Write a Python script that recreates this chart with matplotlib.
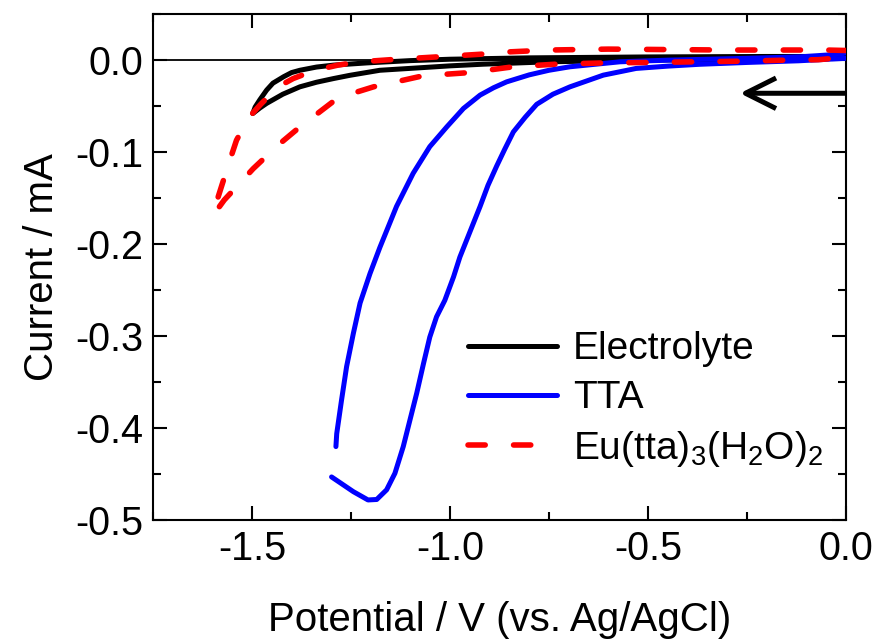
import matplotlib
matplotlib.use('Agg')
import matplotlib.pyplot as plt
from matplotlib.patches import FancyArrowPatch
from matplotlib.ticker import MultipleLocator

plt.rcParams['font.family'] = ['Liberation Sans', 'DejaVu Sans']
plt.rcParams['mathtext.default'] = 'regular'
plt.rcParams['axes.unicode_minus'] = False

# Electrolyte: scan to -1.5 V and back
elec_fwd_v = [0.0, -0.2, -0.5, -0.8, -1.0, -1.1, -1.21, -1.294, -1.337, -1.379, -1.40, -1.42,
              -1.447, -1.463, -1.48, -1.492, -1.498]
elec_fwd_i = [0.004, 0.004, 0.0035, 0.0025, 0.001, -0.0005, -0.003, -0.0054, -0.0075, -0.011,
              -0.0135, -0.018, -0.025, -0.0326, -0.043, -0.051, -0.058]
elec_rev_v = [-1.498, -1.48, -1.463, -1.422, -1.379, -1.337, -1.294, -1.253, -1.177, -1.084, -1.0,
              -0.916, -0.75, -0.5, -0.25, 0.0]
elec_rev_i = [-0.058, -0.052, -0.047, -0.037, -0.029, -0.024, -0.020, -0.0165, -0.011, -0.0085,
              -0.0062, -0.0044, -0.0018, 0.0, 0.001, 0.002]

# TTA
tta_fwd_v = [0.0, -0.12, -0.25, -0.37, -0.45, -0.53, -0.613, -0.697, -0.74, -0.781, -0.81, -0.84,
             -0.862, -0.882, -0.904, -0.924, -0.95, -0.975, -0.991, -1.013, -1.034, -1.051, -1.067,
             -1.084, -1.101, -1.118, -1.139, -1.16, -1.185, -1.207, -1.244, -1.299]
tta_fwd_i = [0.002, -0.0007, -0.0025, -0.0045, -0.0065, -0.009, -0.0163, -0.029, -0.037, -0.048,
             -0.062, -0.078, -0.097, -0.115, -0.136, -0.159, -0.187, -0.214, -0.2355, -0.261,
             -0.279, -0.301, -0.33, -0.362, -0.391, -0.42, -0.449, -0.467, -0.4775, -0.478,
             -0.469, -0.453]
tta_rev_v = [-1.288, -1.286, -1.274, -1.261, -1.244, -1.227, -1.202, -1.177, -1.135, -1.093, -1.051,
             -1.008, -0.966, -0.924, -0.89, -0.857, -0.80, -0.75, -0.697, -0.571, -0.45, -0.369,
             -0.25, -0.116, -0.015, 0.0]
tta_rev_i = [-0.42, -0.406, -0.37, -0.333, -0.297, -0.264, -0.232, -0.2035, -0.159, -0.123, -0.094,
             -0.0725, -0.0525, -0.038, -0.03, -0.0236, -0.016, -0.011, -0.0072, -0.0018, 0.0,
             0.0008, 0.002, 0.0036, 0.0065, 0.008]

# Eu(tta)3(H2O)2
eu_fwd_v = [0.0, -0.05, -0.15, -0.3, -0.45, -0.6, -0.75, -0.85, -0.92, -1.03, -1.14, -1.227, -1.283,
            -1.341, -1.396, -1.43, -1.455, -1.478, -1.497, -1.52, -1.539, -1.556, -1.576, -1.593,
            -1.597]
eu_fwd_i = [0.0105, 0.011, 0.011, 0.011, 0.0115, 0.012, 0.011, 0.009, 0.0065, 0.0036, 0.0008,
            -0.0018, -0.0054, -0.011, -0.020, -0.028, -0.038, -0.048, -0.057, -0.072, -0.087,
            -0.109, -0.136, -0.159, -0.168]
eu_rev_v = [-1.597, -1.57, -1.543, -1.497, -1.433, -1.383, -1.295, -1.253, -1.193, -1.068, -0.95,
            -0.84, -0.73, -0.61, -0.5, -0.38, -0.26, -0.15, -0.07, -0.03, -0.01, 0.0]
eu_rev_i = [-0.168, -0.152, -0.1395, -0.118, -0.092, -0.074, -0.045, -0.037, -0.029, -0.017,
            -0.0135, -0.0072, -0.0043, -0.003, -0.0025, -0.0018, -0.0011, 0.0, 0.0005, 0.002, 0.006,
            0.0105]

fig = plt.figure(figsize=(8.79, 6.43), dpi=100)
ax = fig.add_axes([0.174, 0.191, 0.7885, 0.787])

ax.axhline(0, color='black', lw=1.3, zorder=1)
ax.plot(elec_fwd_v + elec_rev_v[1:], elec_fwd_i + elec_rev_i[1:], color='black', lw=3.6,
        solid_capstyle='round', solid_joinstyle='round', label='Electrolyte', zorder=2)
ax.plot(tta_fwd_v, tta_fwd_i, color='#0000ff', lw=3.6, solid_capstyle='round',
        solid_joinstyle='round', label='TTA', zorder=3)
ax.plot(tta_rev_v, tta_rev_i, color='#0000ff', lw=3.6, solid_capstyle='round',
        solid_joinstyle='round', zorder=3)
ax.plot(eu_fwd_v + eu_rev_v[1:], eu_fwd_i + eu_rev_i[1:], color='#ff0000', lw=4, dashes=(3.1, 5.1),
        dash_capstyle='round', label='Eu(tta)$_3$(H$_2$O)$_2$', zorder=4)

# scan direction arrow
arrow = FancyArrowPatch((0.0, -0.036), (-0.268, -0.036),
                        arrowstyle='->,head_length=1.1,head_width=0.55', mutation_scale=20,
                        lw=3.6, color='black', shrinkA=0, shrinkB=0, capstyle='butt',
                        joinstyle='round', zorder=5)
ax.add_patch(arrow)

ax.set_xlim(-1.75, 0.0)
ax.set_ylim(-0.5, 0.05)
ax.xaxis.set_major_locator(MultipleLocator(0.5))
ax.xaxis.set_minor_locator(MultipleLocator(0.25))
ax.yaxis.set_major_locator(MultipleLocator(0.1))
ax.yaxis.set_minor_locator(MultipleLocator(0.05))
ax.tick_params(which='both', direction='in', top=True, right=True, width=1.5)
ax.tick_params(which='major', length=10, labelsize=28.5, pad=7)
ax.tick_params(which='minor', length=6)
for s in ax.spines.values():
    s.set_linewidth(1.5)

ax.set_xlabel('Potential / V (vs. Ag/AgCl)', fontsize=29, labelpad=24)
ax.set_ylabel('Current / mA', fontsize=29, labelpad=10)

ax.legend(loc='upper left', bbox_to_anchor=(0.4545, 0.373), frameon=False, fontsize=28,
          handlelength=2.3, handletextpad=0.4, labelspacing=0.33, borderpad=0, borderaxespad=0)

fig.savefig('out.png', dpi=100)
